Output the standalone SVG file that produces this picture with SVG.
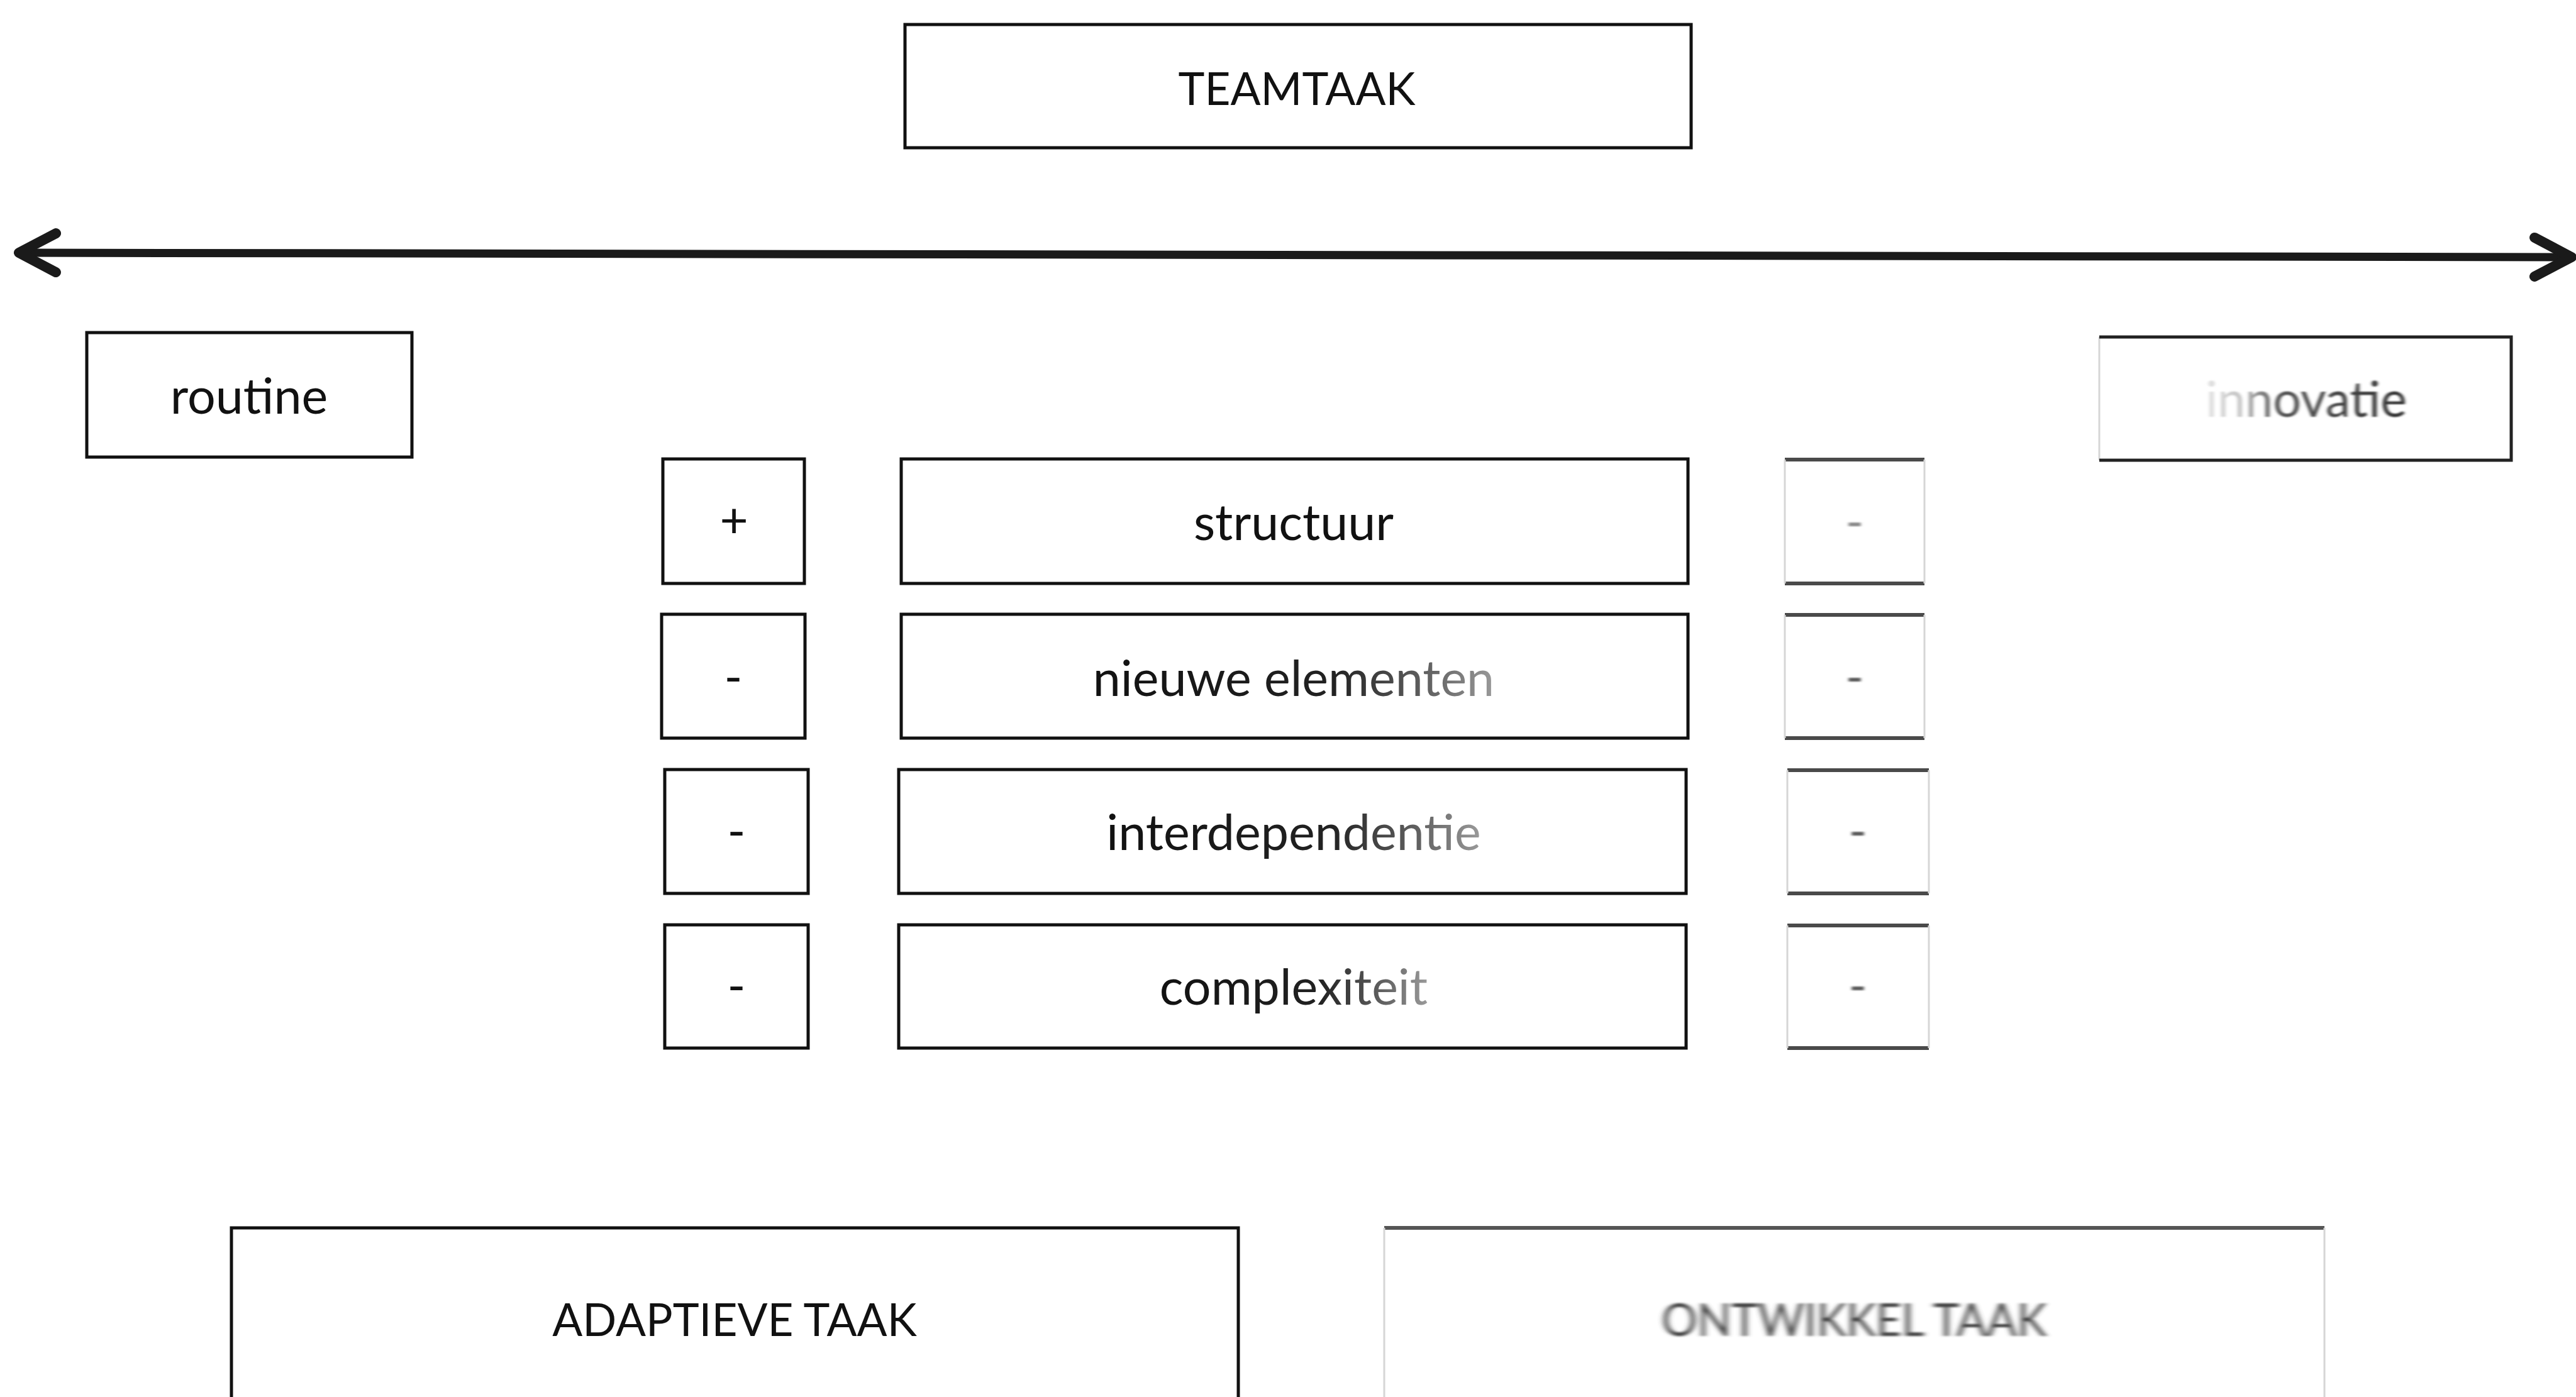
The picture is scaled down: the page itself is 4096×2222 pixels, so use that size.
<svg xmlns="http://www.w3.org/2000/svg" width="4096" height="2222" viewBox="0 0 4096 2222">
  <style>
    .box { fill: #fff; stroke: #111; stroke-width: 5; }
    .lbl { font-family: Lato, "Liberation Sans", sans-serif; font-size: 79px; fill: #111; text-anchor: middle; }
    .caps { font-size: 71px; }
    .sign { font-family: Lato, "Liberation Sans", sans-serif; font-size: 78px; fill: #111; text-anchor: middle; }
    .edge { stroke: #4a4a4a; stroke-width: 6; fill: none; }
    .faint { stroke: #d6d6d6; stroke-width: 3; fill: none; }
    .soft { filter: url(#soft); }
    .axis { stroke: #1a1a1a; stroke-width: 13; fill: none; }
  </style>
  <defs>
    <filter id="soft" x="-10%" y="-30%" width="120%" height="160%">
      <feGaussianBlur stdDeviation="2.5 1.2"/>
    </filter>
    <filter id="smear" x="-10%" y="-30%" width="120%" height="160%">
      <feGaussianBlur stdDeviation="5 1.5"/>
    </filter>
    <linearGradient id="fadeInnov" x1="0" y1="0" x2="1" y2="0">
      <stop offset="0" stop-color="#e2e2e2"/>
      <stop offset="0.18" stop-color="#c4c4c4"/>
      <stop offset="0.35" stop-color="#555"/>
      <stop offset="1" stop-color="#333"/>
    </linearGradient>
    <linearGradient id="fadeTail" x1="0" y1="0" x2="1" y2="0">
      <stop offset="0" stop-color="#111"/>
      <stop offset="0.6" stop-color="#222"/>
      <stop offset="0.85" stop-color="#666"/>
      <stop offset="1" stop-color="#9a9a9a"/>
    </linearGradient>
    <marker id="chev" markerUnits="userSpaceOnUse" markerWidth="90" markerHeight="90" viewBox="-80 -45 90 90" refX="-6" refY="0" orient="auto-start-reverse">
      <path d="M -59 -31 L 0 0 L -59 31" fill="none" stroke="#1a1a1a" stroke-width="16" stroke-linecap="round" stroke-linejoin="round"/>
    </marker>
  </defs>

  <rect width="4096" height="2222" fill="#fff"/>

  <!-- connectors -->
  <g id="connectors">
    <path class="axis" d="M 36 402 L 4083 409" marker-start="url(#chev)" marker-end="url(#chev)"/>
  </g>

  <!-- title -->
  <g id="teamtaak">
    <rect class="box" x="1439" y="39" width="1250" height="196"/>
    <text class="lbl caps" x="2062" y="167">TEAMTAAK</text>
  </g>

  <!-- ends of the axis -->
  <g id="routine">
    <rect class="box" x="138" y="529" width="517" height="198"/>
    <text class="lbl" x="396" y="658">routine</text>
  </g>
  <g id="innovatie">
    <rect x="3338" y="536" width="655" height="196" fill="#fff"/>
    <line class="faint" x1="3338" y1="536" x2="3338" y2="732"/>
    <path d="M 3338 536 L 3993 536 L 3993 732 L 3338 732" fill="none" stroke="#222" stroke-width="5"/>
    <text class="lbl soft" x="3667" y="663" style="fill:url(#fadeInnov)">innovatie</text>
  </g>

  <!-- row 1 -->
  <g id="row1-left">
    <rect class="box" x="1054" y="730" width="225" height="198"/>
    <text class="sign" x="1167" y="855">+</text>
  </g>
  <g id="row1-mid">
    <rect class="box" x="1433" y="730" width="1251" height="198"/>
    <text class="lbl" x="2057" y="859">structuur</text>
  </g>
  <g id="row1-right">
    <line class="edge" x1="2838" y1="731" x2="3060" y2="731"/>
    <line class="edge" x1="2838" y1="928" x2="3060" y2="928"/>
    <line class="faint" x1="2838" y1="731" x2="2838" y2="928"/>
    <line class="faint" x1="3060" y1="731" x2="3060" y2="928"/>
    <text class="sign soft" x="2949" y="857" style="fill:#8a8a8a">-</text>
  </g>

  <!-- row 2 -->
  <g id="row2-left">
    <rect class="box" x="1052" y="977" width="228" height="197"/>
    <text class="sign" x="1166" y="1104">-</text>
  </g>
  <g id="row2-mid">
    <rect class="box" x="1433" y="977" width="1251" height="197"/>
    <text class="lbl" x="2057" y="1107" style="fill:url(#fadeTail)">nieuwe elementen</text>
  </g>
  <g id="row2-right">
    <line class="edge" x1="2838" y1="978" x2="3060" y2="978"/>
    <line class="edge" x1="2838" y1="1174" x2="3060" y2="1174"/>
    <line class="faint" x1="2838" y1="978" x2="2838" y2="1174"/>
    <line class="faint" x1="3060" y1="978" x2="3060" y2="1174"/>
    <text class="sign soft" x="2949" y="1104" style="fill:#5a5a5a">-</text>
  </g>

  <!-- row 3 -->
  <g id="row3-left">
    <rect class="box" x="1057" y="1224" width="228" height="197"/>
    <text class="sign" x="1171" y="1349">-</text>
  </g>
  <g id="row3-mid">
    <rect class="box" x="1429" y="1224" width="1252" height="197"/>
    <text class="lbl" x="2057" y="1352" style="fill:url(#fadeTail)">interdependentie</text>
  </g>
  <g id="row3-right">
    <line class="edge" x1="2842" y1="1225" x2="3067" y2="1225"/>
    <line class="edge" x1="2842" y1="1421" x2="3067" y2="1421"/>
    <line class="faint" x1="2842" y1="1225" x2="2842" y2="1421"/>
    <line class="faint" x1="3067" y1="1225" x2="3067" y2="1421"/>
    <text class="sign soft" x="2954" y="1349" style="fill:#5a5a5a">-</text>
  </g>

  <!-- row 4 -->
  <g id="row4-left">
    <rect class="box" x="1057" y="1471" width="228" height="196"/>
    <text class="sign" x="1171" y="1595">-</text>
  </g>
  <g id="row4-mid">
    <rect class="box" x="1429" y="1471" width="1252" height="196"/>
    <text class="lbl" x="2057" y="1598" style="fill:url(#fadeTail)">complexiteit</text>
  </g>
  <g id="row4-right">
    <line class="edge" x1="2842" y1="1472" x2="3067" y2="1472"/>
    <line class="edge" x1="2842" y1="1667" x2="3067" y2="1667"/>
    <line class="faint" x1="2842" y1="1472" x2="2842" y2="1667"/>
    <line class="faint" x1="3067" y1="1472" x2="3067" y2="1667"/>
    <text class="sign soft" x="2954" y="1595" style="fill:#5a5a5a">-</text>
  </g>

  <!-- task types, running off the bottom edge -->
  <g id="adaptieve-taak">
    <rect class="box" x="368" y="1953" width="1601" height="400"/>
    <text class="lbl caps" x="1168" y="2125">ADAPTIEVE TAAK</text>
  </g>
  <g id="ontwikkel-taak">
    <rect x="2201" y="1953" width="1495" height="400" fill="#fff"/>
    <line x1="2201" y1="1953" x2="3696" y2="1953" stroke="#555" stroke-width="6"/>
    <line class="faint" x1="2201" y1="1953" x2="2201" y2="2240"/>
    <line class="faint" x1="3696" y1="1953" x2="3696" y2="2240"/>
    <text class="lbl caps" x="2948" y="2125" style="fill:#444;filter:url(#smear)">ONTWIKKEL TAAK</text>
  </g>
</svg>
